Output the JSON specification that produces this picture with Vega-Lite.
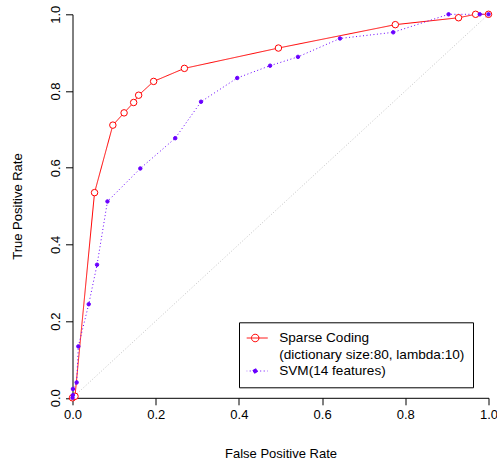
{
  "$schema": "https://vega.github.io/schema/vega-lite/v6.json",
  "width": 416,
  "height": 383.5,
  "autosize": {"type": "none"},
  "padding": {"left": 72.5, "top": 14.3, "right": 8.5, "bottom": 65.2},
  "background": "white",
  "config": {
    "font": "Liberation Sans",
    "view": {"stroke": null},
    "axis": {
      "grid": false,
      "domainColor": "black",
      "tickColor": "black",
      "tickSize": 7,
      "labelColor": "black",
      "labelFont": "Liberation Sans",
      "labelFontSize": 13,
      "titleFont": "Liberation Sans",
      "titleFontSize": 13,
      "titleFontWeight": "normal",
      "titleColor": "black",
      "labelFlush": false,
      "labelOverlap": false
    }
  },
  "datasets": {
    "roc": [
      {"method": "Sparse Coding", "idx": 0, "fpr": 0.0, "tpr": 0.0},
      {"method": "Sparse Coding", "idx": 1, "fpr": 0.006, "tpr": 0.004},
      {"method": "Sparse Coding", "idx": 2, "fpr": 0.053, "tpr": 0.535},
      {"method": "Sparse Coding", "idx": 3, "fpr": 0.097, "tpr": 0.711},
      {"method": "Sparse Coding", "idx": 4, "fpr": 0.124, "tpr": 0.743},
      {"method": "Sparse Coding", "idx": 5, "fpr": 0.147, "tpr": 0.770},
      {"method": "Sparse Coding", "idx": 6, "fpr": 0.159, "tpr": 0.789},
      {"method": "Sparse Coding", "idx": 7, "fpr": 0.195, "tpr": 0.825},
      {"method": "Sparse Coding", "idx": 8, "fpr": 0.269, "tpr": 0.859},
      {"method": "Sparse Coding", "idx": 9, "fpr": 0.495, "tpr": 0.912},
      {"method": "Sparse Coding", "idx": 10, "fpr": 0.776, "tpr": 0.973},
      {"method": "Sparse Coding", "idx": 11, "fpr": 0.928, "tpr": 0.991},
      {"method": "Sparse Coding", "idx": 12, "fpr": 0.969, "tpr": 1.0},
      {"method": "Sparse Coding", "idx": 13, "fpr": 1.0, "tpr": 1.0},
      {"method": "SVM(14 features)", "idx": 0, "fpr": 0.0, "tpr": 0.0},
      {"method": "SVM(14 features)", "idx": 1, "fpr": 0.001, "tpr": 0.007},
      {"method": "SVM(14 features)", "idx": 2, "fpr": 0.001, "tpr": 0.023},
      {"method": "SVM(14 features)", "idx": 3, "fpr": 0.010, "tpr": 0.040},
      {"method": "SVM(14 features)", "idx": 4, "fpr": 0.014, "tpr": 0.134},
      {"method": "SVM(14 features)", "idx": 5, "fpr": 0.039, "tpr": 0.244},
      {"method": "SVM(14 features)", "idx": 6, "fpr": 0.059, "tpr": 0.347},
      {"method": "SVM(14 features)", "idx": 7, "fpr": 0.084, "tpr": 0.512},
      {"method": "SVM(14 features)", "idx": 8, "fpr": 0.163, "tpr": 0.598},
      {"method": "SVM(14 features)", "idx": 9, "fpr": 0.247, "tpr": 0.677},
      {"method": "SVM(14 features)", "idx": 10, "fpr": 0.309, "tpr": 0.772},
      {"method": "SVM(14 features)", "idx": 11, "fpr": 0.396, "tpr": 0.834},
      {"method": "SVM(14 features)", "idx": 12, "fpr": 0.475, "tpr": 0.866},
      {"method": "SVM(14 features)", "idx": 13, "fpr": 0.542, "tpr": 0.889},
      {"method": "SVM(14 features)", "idx": 14, "fpr": 0.643, "tpr": 0.937},
      {"method": "SVM(14 features)", "idx": 15, "fpr": 0.771, "tpr": 0.953},
      {"method": "SVM(14 features)", "idx": 16, "fpr": 0.904, "tpr": 1.0},
      {"method": "SVM(14 features)", "idx": 17, "fpr": 0.979, "tpr": 1.0},
      {"method": "SVM(14 features)", "idx": 18, "fpr": 1.0, "tpr": 1.0}
    ],
    "diag": [
      {"fpr": 0, "tpr": 0},
      {"fpr": 1, "tpr": 1}
    ]
  },
  "layer": [
    {
      "data": {"name": "diag"},
      "mark": {"type": "line", "color": "#c4c4c4", "strokeWidth": 1, "strokeDash": [1, 2]},
      "encoding": {
        "x": {"field": "fpr", "type": "quantitative", "scale": {"domain": [0, 1], "nice": false, "zero": false},
              "axis": {"title": "False Positive Rate", "values": [0, 0.2, 0.4, 0.6, 0.8, 1.0], "format": ".1f",
                       "labelBaseline": "alphabetic", "labelPadding": 13.5,
                       "titleY": 59.3, "titleBaseline": "alphabetic"}},
        "y": {"field": "tpr", "type": "quantitative", "scale": {"domain": [0, 1], "nice": false, "zero": false},
              "axis": {"title": "True Positive Rate", "values": [0, 0.2, 0.4, 0.6, 0.8, 1.0], "format": ".1f",
                       "labelAngle": 270, "labelAlign": "center", "labelBaseline": "alphabetic", "labelPadding": 6,
                       "titleX": -51.5, "titleBaseline": "alphabetic", "titleAngle": 270}}
      }
    },
    {
      "data": {"name": "roc"},
      "mark": {"type": "line", "strokeWidth": 1},
      "encoding": {
        "x": {"field": "fpr", "type": "quantitative"},
        "y": {"field": "tpr", "type": "quantitative"},
        "order": {"field": "idx", "type": "quantitative"},
        "detail": {"field": "method", "type": "nominal"},
        "stroke": {
          "field": "method", "type": "nominal",
          "scale": {"domain": ["Sparse Coding", "(dictionary size:80, lambda:10)", "SVM(14 features)"],
                    "range": ["#ff0000", "transparent", "#6a00ff"]},
          "legend": {
            "title": null,
            "orient": "none",
            "legendX": 166.5,
            "legendY": 308,
            "padding": 7.7,
            "strokeColor": "black",
            "fillColor": "white",
            "cornerRadius": 0,
            "symbolType": "M-1,0H1M0.3,0A0.3,0.3 0 1,1 -0.3,0A0.3,0.3 0 1,1 0.3,0Z",
            "symbolSize": 625,
            "symbolStrokeWidth": 1,
            "symbolOffset": -4.5,
            "labelOffset": 11,
            "clipHeight": 16,
            "rowPadding": 0.5,
            "labelFont": "Liberation Sans",
            "labelFontSize": 13.6,
            "labelColor": "black",
            "labelLimit": 0,
            "encode": {
              "symbols": {
                "update": {
                  "shape": [
                    {"test": "datum.value === 'SVM(14 features)'", "value": "M-1,0H1M0.18,0A0.18,0.18 0 1,1 -0.18,0A0.18,0.18 0 1,1 0.18,0Z"},
                    {"value": "M-1,0H1M0.3,0A0.3,0.3 0 1,1 -0.3,0A0.3,0.3 0 1,1 0.3,0Z"}
                  ],
                  "fill": [
                    {"test": "datum.value === 'SVM(14 features)'", "value": "#6a00ff"},
                    {"test": "datum.value === '(dictionary size:80, lambda:10)'", "value": "transparent"},
                    {"value": "white"}
                  ],
                  "strokeDash": [
                    {"test": "datum.value === 'SVM(14 features)'", "value": [1, 2]},
                    {"value": [1, 0]}
                  ]
                }
              }
            }
          }
        },
        "strokeDash": {
          "field": "method", "type": "nominal",
          "scale": {"domain": ["Sparse Coding", "(dictionary size:80, lambda:10)", "SVM(14 features)"],
                    "range": [[1, 0], [1, 0], [1, 2.5]]},
          "legend": null
        }
      }
    },
    {
      "data": {"name": "roc"},
      "mark": {"type": "point", "shape": "circle", "strokeWidth": 1, "opacity": 1},
      "encoding": {
        "x": {"field": "fpr", "type": "quantitative"},
        "y": {"field": "tpr", "type": "quantitative"},
        "stroke": {"field": "method", "type": "nominal", "legend": null},
        "fill": {"field": "method", "type": "nominal",
                 "scale": {"domain": ["Sparse Coding", "SVM(14 features)"], "range": ["white", "#6a00ff"]},
                 "legend": null},
        "size": {"field": "method", "type": "nominal",
                 "scale": {"type": "ordinal", "domain": ["Sparse Coding", "SVM(14 features)"], "range": [42, 12]},
                 "legend": null}
      }
    }
  ]
}
